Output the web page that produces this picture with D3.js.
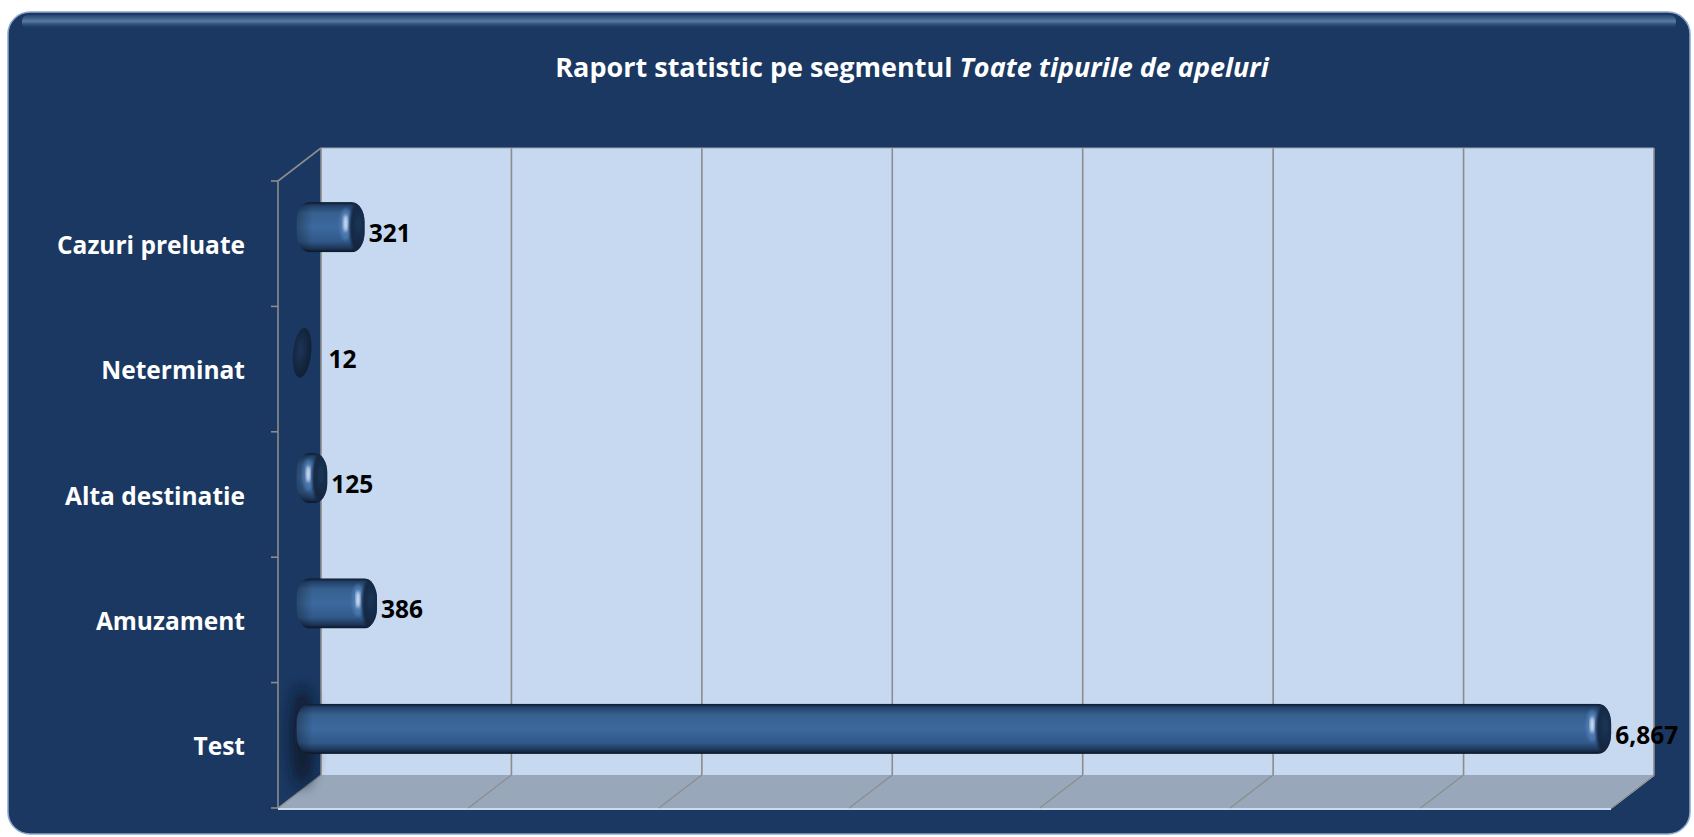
<!DOCTYPE html>
<html>
<head>
<meta charset="utf-8">
<script src="https://cdn.jsdelivr.net/npm/d3@7"></script>
<style>
  body { margin: 0; background: #fff; }
  text { font-family: "Open Sans", Lato, sans-serif; }
</style>
</head>
<body>
<script>
// chart data
var categories = ["Cazuri preluate", "Neterminat", "Alta destinatie", "Amuzament", "Test"];
var values = [321, 12, 125, 386, 6867];
var xTicks = [0, 1000, 2000, 3000, 4000, 5000, 6000, 7000];
var titleMain = "Raport statistic pe segmentul ";
var titleItalic = "Toate tipurile de apeluri";

var dim = {
    width: 1694, height: 837,
    panel: { x: 8, y: 12, w: 1682, h: 822, r: 22 },
    wall: { left: 321, right: 1654, top: 148, bottom: 775 },
    depth: { dx: 43, dy: 33 }
};

var data = categories.map(function(c, i) { return { cat: c, value: values[i], i: i }; });

var x = d3.scaleLinear()
        .domain([xTicks[0], xTicks[xTicks.length - 1]])
        .range([dim.wall.left, dim.wall.right]);

// front edge of the category axis (the 3D box is drawn with a depth offset)
var y = d3.scaleBand()
        .domain(categories)
        .range([dim.wall.top + dim.depth.dy, dim.wall.bottom + dim.depth.dy]);

var svg = d3.select("body").append("svg")
        .attr("width", dim.width)
        .attr("height", dim.height);

var defs = svg.append("defs");

var panelGloss = defs.append("linearGradient").attr("id", "panelGloss")
        .attr("x1", 0).attr("y1", 0).attr("x2", 0).attr("y2", 1);
panelGloss.append("stop").attr("offset", "0%").attr("stop-color", "#5c7fab").attr("stop-opacity", 0.2);
panelGloss.append("stop").attr("offset", "45%").attr("stop-color", "#6e92bf").attr("stop-opacity", 0.75);
panelGloss.append("stop").attr("offset", "100%").attr("stop-color", "#1b3963").attr("stop-opacity", 0);

var barGrad = defs.append("linearGradient").attr("id", "barGrad")
        .attr("x1", 0).attr("y1", 0).attr("x2", 0).attr("y2", 1);
[["0%", "#0d1828"], ["7%", "#22416a"], ["22%", "#36608f"], ["50%", "#3c699f"], ["78%", "#31598a"], ["92%", "#1d3659"], ["100%", "#0b1422"]]
    .forEach(function(s) { barGrad.append("stop").attr("offset", s[0]).attr("stop-color", s[1]); });

var capGrad = defs.append("radialGradient").attr("id", "capGrad")
        .attr("cx", "40%").attr("cy", "45%").attr("r", "65%");
capGrad.append("stop").attr("offset", "0%").attr("stop-color", "#1c3558");
capGrad.append("stop").attr("offset", "100%").attr("stop-color", "#0f1d31");

var leftShade = defs.append("linearGradient").attr("id", "leftShade")
        .attr("x1", 0).attr("y1", 0).attr("x2", 1).attr("y2", 0);
leftShade.append("stop").attr("offset", "0%").attr("stop-color", "#000").attr("stop-opacity", 0.3);
leftShade.append("stop").attr("offset", "100%").attr("stop-color", "#000").attr("stop-opacity", 0);

defs.append("filter").attr("id", "soft").append("feGaussianBlur").attr("stdDeviation", 1.4);
defs.append("filter").attr("id", "capBlur").append("feGaussianBlur").attr("stdDeviation", 1.2);
defs.append("filter").attr("id", "shadowBlur")
        .attr("x", "-100%").attr("y", "-50%").attr("width", "300%").attr("height", "200%")
        .append("feGaussianBlur").attr("stdDeviation", 7);

// outer panel
svg.append("rect")
        .attr("x", dim.panel.x).attr("y", dim.panel.y)
        .attr("width", dim.panel.w).attr("height", dim.panel.h)
        .attr("rx", dim.panel.r)
        .attr("fill", "#1a3861")
        .attr("stroke", "#8aa7cc")
        .attr("stroke-width", 1.5);

svg.append("rect")
        .attr("x", dim.panel.x + 14).attr("y", dim.panel.y + 3)
        .attr("width", dim.panel.w - 28).attr("height", 14)
        .attr("rx", 6)
        .attr("fill", "url(#panelGloss)");

// title
var title = svg.append("text")
        .attr("x", 912).attr("y", 77)
        .attr("text-anchor", "middle")
        .attr("fill", "#fff")
        .attr("font-size", 27)
        .attr("font-weight", "bold");
title.append("tspan").text(titleMain);
title.append("tspan").attr("font-style", "italic").text(titleItalic);

var W = dim.wall, D = dim.depth;

// back wall
svg.append("rect")
        .attr("x", W.left).attr("y", W.top)
        .attr("width", W.right - W.left).attr("height", W.bottom - W.top)
        .attr("fill", "#c6d9f1");

// floor
svg.append("path")
        .attr("d", "M" + W.left + "," + W.bottom + "L" + W.right + "," + W.bottom +
                   "L" + (W.right - D.dx) + "," + (W.bottom + D.dy) + "L" + (W.left - D.dx) + "," + (W.bottom + D.dy) + "Z")
        .attr("fill", "#98a8ba");

svg.append("line")
        .attr("x1", W.left - D.dx).attr("x2", W.right - D.dx)
        .attr("y1", W.bottom + D.dy + 1).attr("y2", W.bottom + D.dy + 1)
        .attr("stroke", "#c9dbef").attr("stroke-width", 2);

svg.append("line")
        .attr("x1", W.right).attr("y1", W.bottom)
        .attr("x2", W.right - D.dx).attr("y2", W.bottom + D.dy)
        .attr("stroke", "#b9c4cf").attr("stroke-width", 2);

// gridlines on the wall and floor
var grid = svg.append("g").attr("class", "grid");
grid.selectAll("line.v").data(xTicks).enter().append("line")
        .attr("class", "v")
        .attr("x1", function(d) { return x(d); }).attr("x2", function(d) { return x(d); })
        .attr("y1", W.top).attr("y2", W.bottom)
        .attr("stroke", "#8c8c8c").attr("stroke-width", 1.6);
grid.selectAll("line.f").data(xTicks).enter().append("line")
        .attr("class", "f")
        .attr("x1", function(d) { return x(d); }).attr("y1", W.bottom)
        .attr("x2", function(d) { return x(d) - D.dx; }).attr("y2", W.bottom + D.dy)
        .attr("stroke", "#8c8c8c").attr("stroke-width", 1.2);

svg.append("line")
        .attr("x1", W.left).attr("x2", W.right)
        .attr("y1", W.top).attr("y2", W.top)
        .attr("stroke", "#9aa7b5").attr("stroke-width", 1);

// left side wall edges and category ticks
var yFront = y.range();
svg.append("path")
        .attr("d", "M" + W.left + "," + W.top + "L" + (W.left - D.dx) + "," + yFront[0] + "L" + (W.left - D.dx) + "," + yFront[1])
        .attr("fill", "none").attr("stroke", "#8c8c8c").attr("stroke-width", 1.6);

var tickYs = categories.map(function(c) { return y(c); }).concat([yFront[1]]);
svg.selectAll("line.tick").data(tickYs).enter().append("line")
        .attr("class", "tick")
        .attr("x1", W.left - D.dx - 7).attr("x2", W.left - D.dx)
        .attr("y1", function(d) { return d; }).attr("y2", function(d) { return d; })
        .attr("stroke", "#8c8c8c").attr("stroke-width", 1.6);

// category labels
svg.selectAll("text.cat").data(categories).enter().append("text")
        .attr("class", "cat")
        .attr("x", 245)
        .attr("y", function(d) { return y(d) + y.bandwidth() / 2 + 10; })
        .attr("text-anchor", "end")
        .attr("fill", "#fff")
        .attr("font-size", 24.5)
        .attr("font-weight", "bold")
        .text(function(d) { return d; });

// cylinder bars, placed at mid depth
var barH = y.bandwidth() * 0.4, capRx = 11;
function cy(d) { return y(d.cat) + y.bandwidth() / 2 - D.dy / 2; }
function x0(d) { return x(0) - D.dx / 2 - 3; }
function x1(d) { return x(d.value) - D.dx / 2 + 4; }
var maxVal = d3.max(values);

var bars = svg.append("g").attr("class", "bars")
        .selectAll("g").data(data).enter().append("g");

bars.filter(function(d) { return d.value === maxVal; }).append("ellipse")
        .attr("cx", function(d) { return x0(d) + 6; })
        .attr("cy", function(d) { return cy(d) + 8; })
        .attr("rx", 12).attr("ry", barH)
        .attr("fill", "#0a1526").attr("opacity", 0.8)
        .attr("filter", "url(#shadowBlur)");

var long = bars.filter(function(d) { return x1(d) - x0(d) > 2 * capRx; });

long.each(function(d) {
    defs.append("clipPath").attr("id", "barClip-" + d.i)
        .append("rect")
        .attr("x", x0(d)).attr("y", cy(d) - barH / 2)
        .attr("width", x1(d) - x0(d)).attr("height", barH)
        .attr("rx", 13).attr("ry", barH * 0.4);
});

var body = long.append("g")
        .attr("clip-path", function(d) { return "url(#barClip-" + d.i + ")"; });

body.append("rect")
        .attr("x", x0).attr("y", function(d) { return cy(d) - barH / 2; })
        .attr("width", function(d) { return x1(d) - x0(d); }).attr("height", barH)
        .attr("fill", "url(#barGrad)");

body.append("rect")
        .attr("x", x0).attr("y", function(d) { return cy(d) - barH / 2; })
        .attr("width", 16).attr("height", barH)
        .attr("fill", "url(#leftShade)");

body.append("ellipse")
        .attr("cx", function(d) { return x1(d) - 19; })
        .attr("cy", function(d) { return cy(d) - 3; })
        .attr("rx", 6).attr("ry", barH * 0.32)
        .attr("fill", "#5d8bc4").attr("opacity", 0.55)
        .attr("filter", "url(#soft)");

body.append("ellipse")
        .attr("cx", function(d) { return x1(d) - 19; })
        .attr("cy", function(d) { return cy(d) - 4; })
        .attr("rx", 2.2).attr("ry", barH * 0.17)
        .attr("fill", "#e6f0ff").attr("opacity", 0.9)
        .attr("filter", "url(#soft)");

// dark end face, clipped by the body outline so it reads as a crescent
body.append("ellipse")
        .attr("cx", function(d) { return x1(d) - 4; })
        .attr("cy", cy)
        .attr("rx", capRx).attr("ry", barH / 2 + 4)
        .attr("fill", "url(#capGrad)")
        .attr("filter", "url(#capBlur)");

bars.filter(function(d) { return x1(d) - x0(d) <= 2 * capRx; }).append("ellipse")
        .attr("cx", function(d) { return (x0(d) + x1(d)) / 2 + 1; })
        .attr("cy", cy)
        .attr("rx", capRx - 2).attr("ry", barH / 2)
        .attr("fill", "url(#capGrad)")
        .attr("transform", function(d) { return "rotate(6," + ((x0(d) + x1(d)) / 2) + "," + cy(d) + ")"; });

// value labels
bars.append("text")
        .attr("x", function(d) { return Math.max(x1(d), x0(d) + 28) + 4; })
        .attr("y", function(d) { return cy(d) + 15; })
        .attr("fill", "#000")
        .attr("font-size", 24.5)
        .attr("font-weight", "bold")
        .text(function(d) { return d3.format(",")(d.value); });
</script>
</body>
</html>
